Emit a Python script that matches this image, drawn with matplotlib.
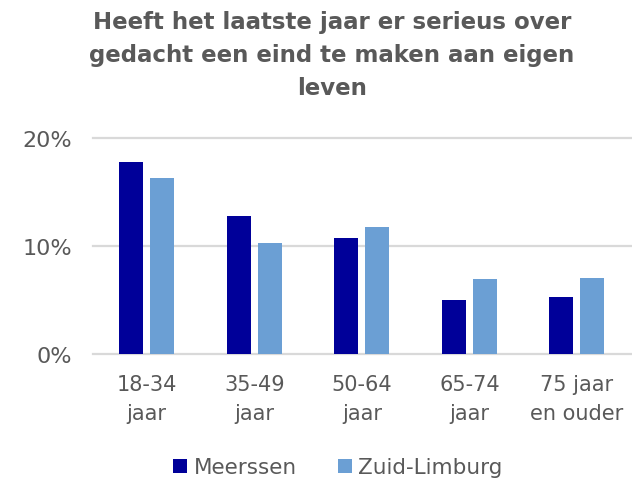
import numpy as np
import matplotlib
matplotlib.use('Agg')
import matplotlib.pyplot as plt
from matplotlib.ticker import PercentFormatter

# Data
categories = ['18-34\njaar', '35-49\njaar', '50-64\njaar', '65-74\njaar', '75 jaar\nen ouder']
meerssen = [17.8, 12.8, 10.8, 5.0, 5.3]
zuid_limburg = [16.3, 10.3, 11.8, 7.0, 7.1]
series_names = ['Meerssen', 'Zuid-Limburg']

grey = '#595959'
plt.rcParams['font.family'] = ['DejaVu Sans']

fig = plt.figure(figsize=(6.32, 4.81), dpi=100)
ax = fig.add_axes([0.147, 0.261, 0.851, 0.45])

x = np.arange(len(categories))
w = 0.223
ax.bar(x - 0.144, meerssen, w, color='#000099', label=series_names[0], zorder=3)
ax.bar(x + 0.144, zuid_limburg, w, color='#6B9FD4', label=series_names[1], zorder=3)

ax.set_xlim(-0.5, len(categories) - 0.5)
ax.set_ylim(0, 20)
ax.set_yticks([0, 10, 20])
ax.yaxis.set_major_formatter(PercentFormatter(decimals=0))
ax.grid(axis='y', color='#D9D9D9', linewidth=1.6, zorder=0)
for gl in ax.get_ygridlines():
    gl.set_clip_on(False)
for s in ax.spines.values():
    s.set_visible(False)
ax.tick_params(axis='both', length=0, colors=grey)
ax.tick_params(axis='y', pad=15, labelsize=16)
ax.tick_params(axis='x', pad=14, labelsize=15)
ax.set_xticks(x)
ax.set_xticklabels(categories, linespacing=1.55)

fig.text(0.525, 0.977, 'Heeft het laatste jaar er serieus over\ngedacht een eind te maken aan eigen\nleven',
         ha='center', va='top', fontsize=16.5, fontweight='bold', color=grey, linespacing=1.55)

leg = fig.legend(loc='lower center', bbox_to_anchor=(0.535, -0.035), ncol=2, frameon=False,
                 fontsize=15.5, handlelength=0.65, handleheight=0.65, handletextpad=0.3,
                 columnspacing=1.9)
for t in leg.get_texts():
    t.set_color(grey)

fig.savefig('out.png', dpi=100)
